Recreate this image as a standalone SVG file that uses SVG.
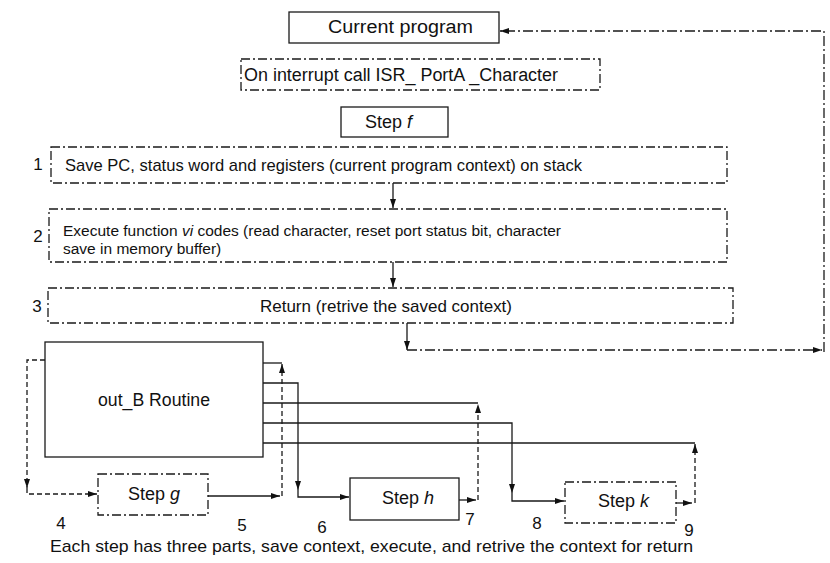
<svg xmlns="http://www.w3.org/2000/svg" width="830" height="563" viewBox="0 0 830 563">
<style>
.bx{fill:none;stroke:#1a1a1a;stroke-width:1.3}
.dsh{stroke-dasharray:9 3 2 3}
.ln{fill:none;stroke:#1a1a1a;stroke-width:1.3}
.dl{stroke-dasharray:5 3}
.dd{stroke-dasharray:10 3 2 3}
text{font-family:"Liberation Sans",Arial,sans-serif;fill:#111}
.t{font-size:17px}
.ts{font-size:15.5px}
.tl{font-size:18px}
.n{font-size:17px;text-anchor:middle}
</style>
<defs>
<marker id="ah" markerUnits="userSpaceOnUse" markerWidth="10" markerHeight="7" refX="9" refY="3" orient="auto">
<path d="M0,0 L9,3 L0,6 z" fill="#111"/>
</marker>
</defs>
<rect width="830" height="563" fill="#fff"/>

<g id="current-program">
<rect class="bx" x="289" y="12" width="210" height="31"/>
<text class="tl" x="328" y="33" textLength="145" lengthAdjust="spacingAndGlyphs">Current program</text>
</g>
<g id="interrupt">
<rect class="bx dsh" x="241" y="59" width="359" height="31"/>
<text class="tl" x="244" y="81" textLength="314" lengthAdjust="spacingAndGlyphs">On interrupt call ISR_ PortA _Character</text>
</g>
<g id="step-f">
<rect class="bx" x="341" y="107" width="107" height="30"/>
<text class="tl" x="365" y="128">Step <tspan font-style="italic">f</tspan></text>
</g>
<g id="step1">
<text class="n" x="38" y="170">1</text>
<rect class="bx dsh" x="51" y="147" width="676" height="36"/>
<text class="t" x="65" y="171" textLength="517" lengthAdjust="spacingAndGlyphs">Save PC, status word and registers (current program context) on stack</text>
</g>
<g id="step2">
<text class="n" x="38" y="242">2</text>
<rect class="bx dsh" x="49" y="209" width="678" height="53"/>
<text class="ts" x="63" y="236">Execute function <tspan font-style="italic">vi</tspan> codes (read character, reset port status bit, character</text>
<text class="ts" x="63" y="254">save in memory buffer)</text>
</g>
<g id="step3">
<text class="n" x="37" y="312">3</text>
<rect class="bx dsh" x="48" y="288" width="685" height="35"/>
<text class="t" x="260" y="312" textLength="252" lengthAdjust="spacingAndGlyphs">Return (retrive the saved context)</text>
</g>
<g id="out-b">
<rect class="bx" x="45" y="342" width="218" height="115"/>
<text class="tl" x="98" y="406" textLength="112" lengthAdjust="spacingAndGlyphs">out_B Routine</text>
</g>
<g id="step-g">
<rect class="bx dsh" x="98" y="474" width="110" height="41"/>
<text class="tl" x="128" y="500">Step <tspan font-style="italic">g</tspan></text>
<text class="n" x="61" y="529">4</text>
<text class="n" x="242" y="531">5</text>
</g>
<g id="step-h">
<rect class="bx" x="350" y="478" width="109" height="42"/>
<text class="tl" x="382" y="504">Step <tspan font-style="italic">h</tspan></text>
<text class="n" x="322" y="533">6</text>
<text class="n" x="470" y="525">7</text>
</g>
<g id="step-k">
<rect class="bx dsh" x="565" y="482" width="111" height="41"/>
<text class="tl" x="598" y="507">Step <tspan font-style="italic">k</tspan></text>
<text class="n" x="537" y="529">8</text>
<text class="n" x="689" y="536">9</text>
</g>
<g id="caption">
<text class="t" x="50" y="552" textLength="643" lengthAdjust="spacingAndGlyphs">Each step has three parts, save context, execute, and retrive the context for return</text>
</g>

<g id="connectors">
<line class="ln" x1="393" y1="183" x2="393" y2="208" marker-end="url(#ah)"/>
<line class="ln" x1="393" y1="262" x2="393" y2="287" marker-end="url(#ah)"/>
<path class="ln" d="M407 323 V350" marker-end="url(#ah)"/>
<path class="ln dd" d="M407 350 H822" marker-end="url(#ah)"/>
<path class="ln dd" d="M824 352 V31 H500" marker-end="url(#ah)"/>

<path class="ln dl" d="M45 360 H27 V488" marker-end="url(#ah)"/>
<path class="ln dl" d="M27 488 V494 H97" marker-end="url(#ah)"/>

<path class="ln" d="M263 363 H282"/>
<path class="ln" d="M208 496 H280" marker-end="url(#ah)"/>
<path class="ln dl" d="M282 496 V364" marker-end="url(#ah)"/>

<path class="ln" d="M263 383 H298 V490" marker-end="url(#ah)"/>
<path class="ln" d="M298 490 V497 H349" marker-end="url(#ah)"/>

<path class="ln" d="M263 403 H478"/>
<path class="ln" d="M459 500 H476" marker-end="url(#ah)"/>
<path class="ln dl" d="M478 500 V404" marker-end="url(#ah)"/>

<path class="ln" d="M263 423 H512 V493" marker-end="url(#ah)"/>
<path class="ln" d="M512 493 V501 H564" marker-end="url(#ah)"/>

<path class="ln" d="M263 443 H695"/>
<path class="ln" d="M676 503 H692" marker-end="url(#ah)"/>
<path class="ln dl" d="M695 503 V444" marker-end="url(#ah)"/>
</g>
</svg>
